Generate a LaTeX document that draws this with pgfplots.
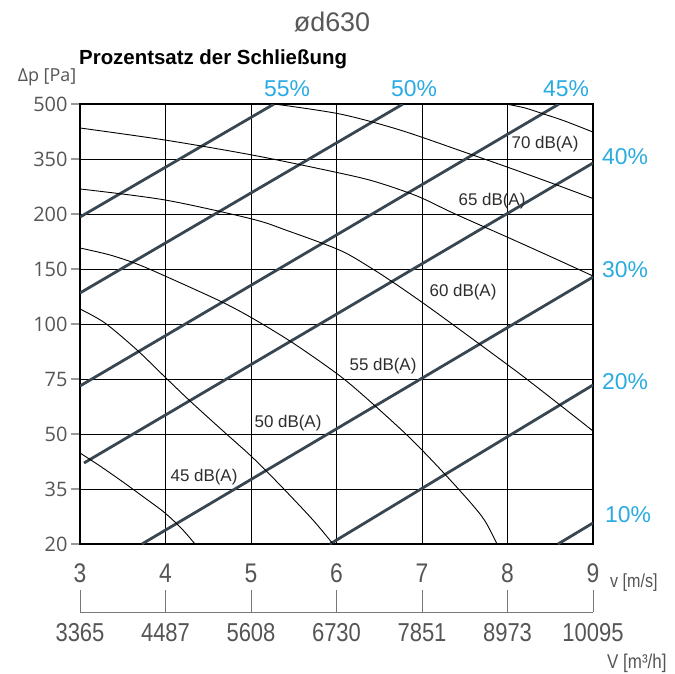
\documentclass[border=0pt]{standalone}
\usepackage{fontspec}
\setmainfont{Liberation Sans}
\newfontfamily\osans{Open Sans}
\newfontfamily\cond[FakeStretch=0.85]{Liberation Sans}
\usepackage{pgfplots}
\pgfplotsset{compat=1.18}
\definecolor{thickc}{RGB}{55,70,80}
\definecolor{pct}{RGB}{41,171,226}
\definecolor{lbl}{RGB}{85,85,85}
\definecolor{dbc}{RGB}{45,45,45}
\definecolor{ttl}{RGB}{88,88,88}

\begin{document}
\begin{tikzpicture}
\begin{axis}[
  width=513bp, height=440bp, scale only axis,
  xmin=3, xmax=9, ymin=0, ymax=8,
  xtick={3,...,9}, ytick={0,...,8},
  xticklabels={3,4,5,6,7,8,9},
  yticklabels={20,35,50,75,100,150,200,350,500},
  /pgf/number format/assume math mode=true,
  grid=major, grid style={black, line width=0.8bp},
  axis line style={black, line width=2.2bp},
  tick align=outside, xtick pos=bottom, ytick pos=left,
  major tick length=9bp,
  ytick style={draw=lbl!60, line width=1.2bp},
  xtick style={draw=none},
  yticklabel style={font=\osans\fontsize{20}{20}\selectfont, text=lbl},
  xticklabel style={font=\cond\fontsize{27}{27}\selectfont, text=lbl, anchor=center, yshift=-20bp},
]
% closure lines (thick)
\addplot[thickc, line width=2.8bp] coordinates {(3,5.945) (5.269,8)};
\addplot[thickc, line width=2.8bp] coordinates {(3,4.564) (6.778,8)};
\addplot[thickc, line width=2.8bp] coordinates {(3,2.873) (8.602,8)};
\addplot[thickc, line width=2.8bp] coordinates {(3.047,1.473) (9,6.927)};
\addplot[thickc, line width=2.8bp] coordinates {(3.725,0) (9,4.855)};
\addplot[thickc, line width=2.8bp] coordinates {(5.924,0) (9,2.891)};
\addplot[thickc, line width=2.8bp] coordinates {(8.591,0) (9,0.382)};
% sound level curves (thin)
\addplot[black, line width=0.9bp, smooth] coordinates {(7.95,8.01) (8.2,7.93) (8.42,7.82) (8.67,7.69) (9,7.49)};
\addplot[black, line width=0.9bp, smooth] coordinates {(5.269,8) (6.041,7.818) (6.743,7.527) (7.526,7.109) (7.994,6.855) (8.497,6.573) (9,6.282)};
\addplot[black, line width=0.9bp, smooth] coordinates {(3,7.564) (3.994,7.345) (5.012,7.073) (5.924,6.782) (6.427,6.6) (6.942,6.327) (7.363,6.018) (7.994,5.582) (8.462,5.255) (9,4.873)};
\addplot[black, line width=0.9bp, smooth] coordinates {(3,6.455) (3.994,6.255) (5.012,5.909) (5.421,5.70) (6.041,5.34) (6.392,5.03) (6.708,4.71) (7.094,4.291) (7.655,3.655) (8.146,3.091) (8.614,2.527) (9,2.055)};
\addplot[black, line width=0.9bp, smooth] coordinates {(3,5.382) (3.351,5.255) (3.667,5.091) (3.994,4.873) (4.637,4.418) (5.012,4.109) (5.491,3.655) (6.041,3.055) (6.427,2.545) (6.86,1.927) (7.211,1.364) (7.561,0.764) (7.737,0.418) (7.877,0)};
\addplot[black, line width=0.9bp, smooth] coordinates {(3,4.273) (3.292,4.018) (3.667,3.527) (3.994,3.036) (4.287,2.6) (4.673,2.055) (5.012,1.582) (5.339,1.073) (5.725,0.436) (5.959,0)};
\addplot[black, line width=0.9bp, smooth] coordinates {(3,1.655) (3.234,1.418) (3.503,1.127) (3.760,0.836) (3.994,0.564) (4.193,0.273) (4.345,0)};
\end{axis}

\begin{axis}[
  at={(0,-68bp)}, anchor=south west,
  width=513bp, height=20bp, scale only axis,
  xmin=3, xmax=9, ymin=0, ymax=1,
  axis x line*=bottom, hide y axis,
  xtick={3,...,9},
  xticklabels={3365,4487,5608,6730,7851,8973,10095},
  tick align=inside, major tick length=22bp,
  axis line style={lbl!80, line width=1bp},
  xtick style={lbl!80, line width=1bp},
  xticklabel style={font=\cond\fontsize{26}{26}\selectfont, text=lbl, anchor=center, yshift=-21bp},
]
\addplot[draw=none] coordinates {(3,0) (9,1)};
\end{axis}

\begin{scope}[shift={(-80bp,544bp)}, x=1bp, y=-1bp]
\node[anchor=base, text=ttl, font=\fontsize{27}{27}\selectfont] at (332,32) {ød630};
\node[anchor=base west, font=\bfseries\fontsize{20.5}{20.5}\selectfont, inner sep=0pt] at (79,65) {Prozentsatz der Schließung};
\node[anchor=base, text=lbl, font=\osans\fontsize{18}{18}\selectfont] at (47,82) {Δp [Pa]};
\begin{scope}[every node/.style={anchor=base, text=pct, font=\fontsize{23}{23}\selectfont, inner sep=0pt}]
\node at (287,97) {55\%};
\node at (414,97) {50\%};
\node at (566,97) {45\%};
\node at (625,165) {40\%};
\node at (625,278) {30\%};
\node at (625,390) {20\%};
\node at (628,523) {10\%};
\end{scope}
\begin{scope}[every node/.style={anchor=base, text=dbc, font=\fontsize{17}{17}\selectfont, inner sep=0pt}]
\node at (545,149) {70 dB(A)};
\node at (492,206) {65 dB(A)};
\node at (463,297) {60 dB(A)};
\node at (383,371) {55 dB(A)};
\node at (288,428) {50 dB(A)};
\node at (204,482) {45 dB(A)};
\end{scope}
\node[anchor=base west, text=lbl, font=\cond\fontsize{19}{19}\selectfont, inner sep=0pt] at (610,587) {v [m/s]};
\node[anchor=base west, text=lbl, font=\cond\fontsize{20}{20}\selectfont, inner sep=0pt] at (607,668) {V [m³/h]};
\pgfresetboundingbox
\path (0,0) rectangle (675,674);
\end{scope}
\end{tikzpicture}
\end{document}
